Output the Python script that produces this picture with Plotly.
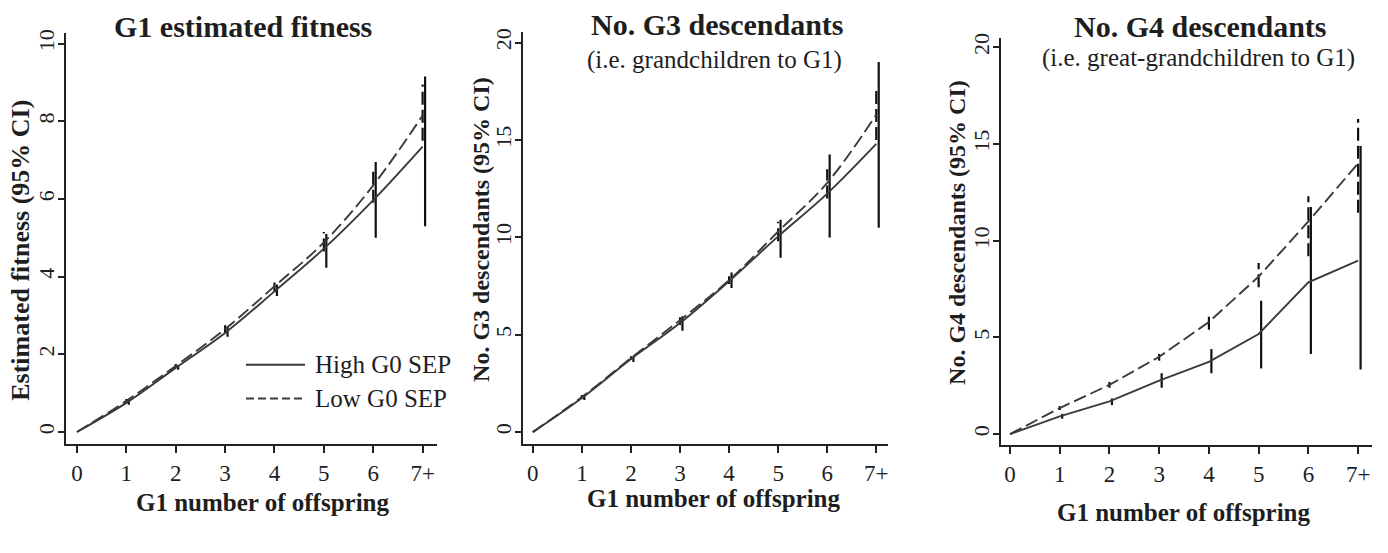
import plotly.graph_objects as go

W, H = 1388, 553

# ---------------- data ----------------
x_vals = [0, 1, 2, 3, 4, 5, 6, 7]
x_labels = ["0", "1", "2", "3", "4", "5", "6", "7+"]

# Panel 1: G1 estimated fitness
fit_high = [0, 0.75, 1.65, 2.55, 3.62, 4.72, 5.97, 7.35]
fit_high_lo = [0, 0.70, 1.60, 2.45, 3.50, 4.23, 5.00, 5.30]
fit_high_hi = [0, 0.82, 1.72, 2.70, 3.80, 5.10, 6.95, 9.15]
fit_low = [0, 0.80, 1.70, 2.65, 3.75, 4.88, 6.35, 8.15]
fit_low_lo = [0, 0.75, 1.65, 2.55, 3.60, 4.65, 5.90, 7.50]
fit_low_hi = [0, 0.85, 1.75, 2.75, 3.85, 5.15, 6.70, 8.95]

# Panel 2: No. G3 descendants
g3_high = [0, 1.75, 3.75, 5.60, 7.75, 10.05, 12.25, 14.8]
g3_high_lo = [0, 1.65, 3.60, 5.20, 7.40, 8.95, 10.0, 10.5]
g3_high_hi = [0, 1.85, 3.90, 5.95, 8.20, 10.9, 14.25, 19.0]
g3_low = [0, 1.80, 3.80, 5.75, 7.80, 10.3, 12.8, 16.3]
g3_low_lo = [0, 1.70, 3.70, 5.50, 7.60, 9.8, 12.0, 15.0]
g3_low_hi = [0, 1.90, 3.90, 5.90, 8.00, 10.8, 13.5, 17.7]

# Panel 3: No. G4 descendants
g4_high = [0, 0.92, 1.69, 2.77, 3.74, 5.18, 7.85, 8.97]
g4_high_lo = [0, 0.80, 1.50, 2.40, 3.15, 3.40, 4.15, 3.35]
g4_high_hi = [0, 1.05, 1.85, 3.15, 4.40, 6.90, 11.75, 14.9]
g4_low = [0, 1.35, 2.55, 4.00, 5.80, 8.15, 11.0, 14.0]
g4_low_lo = [0, 1.25, 2.40, 3.80, 5.40, 7.60, 9.20, 11.45]
g4_low_hi = [0, 1.45, 2.70, 4.15, 6.20, 8.85, 12.3, 16.3]

y_ticks_10 = [0, 2, 4, 6, 8, 10]
y_ticks_20 = [0, 5, 10, 15, 20]

series_names = ["High G0 SEP", "Low G0 SEP"]

# ---------------- style ----------------
FONT = "Liberation Serif"
TXT = "#1e1e1e"
LINE = "#3a3a3a"
CI = "#111111"
DASH = "13px,5px"

fig = go.Figure()


def ci_path(xs, lo, hi, off):
    px, py = [], []
    for xv, a, b in zip(xs, lo, hi):
        px += [xv + off, xv + off, None]
        py += [a, b, None]
    return px, py


def add_panel(i, high, hlo, hhi, low, llo, lhi, shape):
    xa = "x" if i == 1 else f"x{i}"
    ya = "y" if i == 1 else f"y{i}"
    # CIs
    cx, cy = ci_path(x_vals, llo, lhi, 0.0)
    fig.add_trace(go.Scatter(x=cx, y=cy, mode="lines", xaxis=xa, yaxis=ya,
                             line=dict(color=CI, width=2.2, dash=DASH),
                             showlegend=False, hoverinfo="skip"))
    cx, cy = ci_path(x_vals, hlo, hhi, 0.05)
    fig.add_trace(go.Scatter(x=cx, y=cy, mode="lines", xaxis=xa, yaxis=ya,
                             line=dict(color=CI, width=2.2),
                             showlegend=False, hoverinfo="skip"))
    # lines
    fig.add_trace(go.Scatter(x=x_vals, y=high, mode="lines", xaxis=xa, yaxis=ya,
                             name=series_names[0],
                             line=dict(color=LINE, width=1.9, shape=shape),
                             showlegend=False))
    fig.add_trace(go.Scatter(x=x_vals, y=low, mode="lines", xaxis=xa, yaxis=ya,
                             name=series_names[1],
                             line=dict(color=LINE, width=1.9, dash=DASH, shape=shape),
                             showlegend=False))


add_panel(1, fit_high, fit_high_lo, fit_high_hi, fit_low, fit_low_lo, fit_low_hi, "spline")
add_panel(2, g3_high, g3_high_lo, g3_high_hi, g3_low, g3_low_lo, g3_low_hi, "spline")
add_panel(3, g4_high, g4_high_lo, g4_high_hi, g4_low, g4_low_lo, g4_low_hi, "linear")


def xaxis(domain, rng, anchor):
    return dict(domain=domain, range=rng, anchor=anchor,
                tickmode="array", tickvals=x_vals, ticktext=x_labels,
                showline=True, linecolor="#222", linewidth=2,
                ticks="outside", ticklen=7, tickwidth=1.5, tickcolor="#222",
                showgrid=False, zeroline=False,
                tickfont=dict(family=FONT, size=23, color=TXT))


def yaxis(domain, rng, ticks, anchor):
    return dict(domain=domain, range=rng, anchor=anchor,
                tickmode="array", tickvals=ticks,
                tickangle=-90, ticklabelstandoff=-5,
                showline=True, linecolor="#222", linewidth=2,
                ticks="outside", ticklen=6, tickwidth=1.5, tickcolor="#222",
                showgrid=False, zeroline=False,
                tickfont=dict(family=FONT, size=22, color=TXT))


def px_x(v):
    return v / W


def px_y(v):
    return 1 - v / H


annotations = []


def ann(text, x, y, size, bold=False, angle=0, xanchor="center"):
    t = f"<b>{text}</b>" if bold else text
    annotations.append(dict(text=t, x=px_x(x), y=px_y(y), xref="paper", yref="paper",
                            showarrow=False, textangle=angle, xanchor=xanchor,
                            yanchor="middle",
                            font=dict(family=FONT, size=size, color=TXT)))


# titles
ann("G1 estimated fitness", 243, 22, 30, bold=True)
ann("No. G3 descendants", 717, 20, 30, bold=True)
ann("(i.e. grandchildren to G1)", 714, 55, 25)
ann("No. G4 descendants", 1200, 22, 30, bold=True)
ann("(i.e. great-grandchildren to G1)", 1198, 53, 25)
# x titles
ann("G1 number of offspring", 263, 502, 25, bold=True)
ann("G1 number of offspring", 714, 498, 25, bold=True)
ann("G1 number of offspring", 1184, 512, 25, bold=True)
# y titles
ann("Estimated fitness (95% CI)", 21, 248, 26, bold=True, angle=-90)
ann("No. G3 descendants (95% CI)", 481, 226, 24, bold=True, angle=-90)
ann("No. G4 descendants (95% CI)", 957, 230, 24, bold=True, angle=-90)
# legend text
ann(series_names[0], 313, 363, 25, xanchor="left")
ann(series_names[1], 313, 397, 25, xanchor="left")

shapes = [
    dict(type="line", xref="paper", yref="paper", x0=px_x(246), x1=px_x(305),
         y0=px_y(363), y1=px_y(363), line=dict(color=LINE, width=2)),
    dict(type="line", xref="paper", yref="paper", x0=px_x(246), x1=px_x(305),
         y0=px_y(397), y1=px_y(397), line=dict(color=LINE, width=2, dash="8px,4px")),
]

fig.update_layout(
    width=W, height=H,
    margin=dict(l=0, r=0, t=0, b=0),
    paper_bgcolor="white", plot_bgcolor="white",
    showlegend=False,
    xaxis=xaxis([0.0476, 0.3148], [-0.22, 7.29], "y"),
    yaxis=yaxis([0.1989, 0.9494], [-0.31, 10.28], y_ticks_10, "x"),
    xaxis2=xaxis([0.3768, 0.6398], [-0.20, 7.24], "y2"),
    yaxis2=yaxis([0.1989, 0.9512], [-0.61, 20.56], y_ticks_20, "x2"),
    xaxis3=xaxis([0.7212, 0.9885], [-0.18, 7.28], "y3"),
    yaxis3=yaxis([0.1971, 0.9403], [-0.56, 20.5], y_ticks_20, "x3"),
    annotations=annotations,
    shapes=shapes,
)

fig.write_html("out.html")
